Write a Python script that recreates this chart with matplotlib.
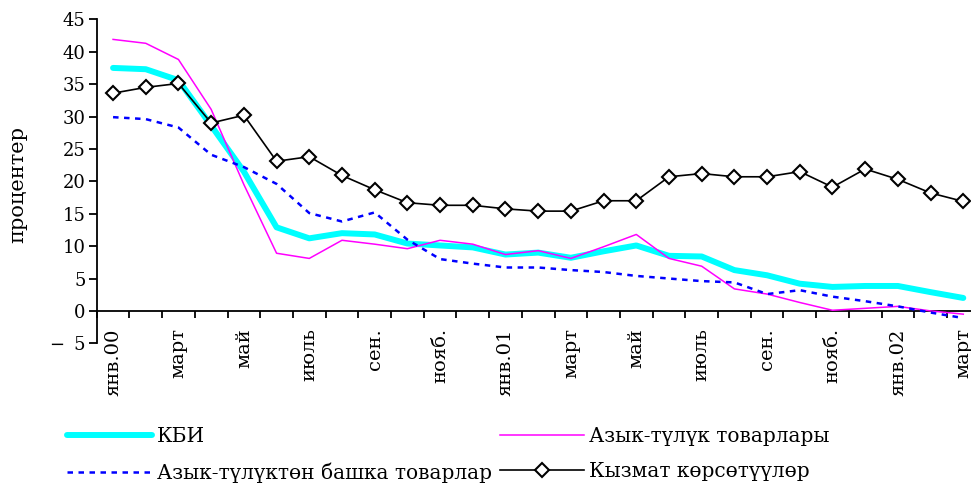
import matplotlib
matplotlib.use("Agg")
import matplotlib.pyplot as plt
from matplotlib.ticker import FixedLocator, NullFormatter

plt.rcParams['font.family'] = ['DejaVu Serif']

months = list(range(27))  # Jan 2000 .. Mar 2002
tick_labels = ["янв.00", "март", "май", "июль", "сен.", "нояб.",
               "янв.01", "март", "май", "июль", "сен.", "нояб.",
               "янв.02", "март"]

cpi = [37.5, 37.3, 35.6, 28.6, 21.5, 12.9, 11.2, 12.0, 11.8, 10.4, 10.1, 9.8,
       8.7, 9.0, 8.2, 9.2, 10.1, 8.5, 8.4, 6.3, 5.5, 4.2, 3.7, 3.85, 3.85, 2.9, 2.0]
food = [41.9, 41.3, 38.8, 31.1, 19.5, 8.9, 8.1, 10.9, 10.3, 9.6, 10.9, 10.3,
        8.7, 9.3, 8.1, 9.9, 11.8, 8.1, 6.9, 3.4, 2.6, 1.3, 0.1, 0.4, 0.7, 0.0, -0.5]
nonfood = [29.9, 29.6, 28.3, 24.1, 22.2, 19.6, 15.1, 13.8, 15.2, 11.0, 8.0, 7.3,
           6.7, 6.7, 6.3, 6.0, 5.4, 5.0, 4.6, 4.4, 2.6, 3.2, 2.2, 1.5, 0.7, -0.25, -1.1]
services = [33.6, 34.5, 35.1, 29.0, 30.2, 23.1, 23.8, 20.9, 18.7, 16.7, 16.3, 16.3,
            15.75, 15.4, 15.4, 17.0, 17.0, 20.7, 21.2, 20.7, 20.7, 21.5, 19.1, 21.9,
            20.3, 18.2, 16.9]

names = ["КБИ", "Азык-түлүк товарлары", "Азык-түлүктөн башка товарлар",
         "Кызмат көрсөтүүлөр"]

y_ticks = list(range(-5, 50, 5))
# negative values get the minus sign set apart from the digits
y_tick_labels = ["\u2212\u2002" + str(-v) if v < 0 else str(v) for v in y_ticks]

fig = plt.figure(figsize=(9.71, 4.83), dpi=100)
ax = fig.add_axes([0.0996, 0.2892, 0.9093, 0.6708])

l_cpi, = ax.plot(months, cpi, color="#00ffff", lw=4.3, solid_capstyle="round",
                 zorder=2)
l_food, = ax.plot(months, food, color="#ff00ff", lw=1.1, zorder=3)
l_nonfood, = ax.plot(months, nonfood, color="#0000ff", lw=1.8,
                     dashes=(2.2, 2.2), zorder=3)
l_serv, = ax.plot(months, services, color="black", lw=1.2, marker="D",
                  markersize=7, markerfacecolor="white", markeredgecolor="black",
                  markeredgewidth=1.5, zorder=4)

ax.set_xlim(-0.5, 26.5)
ax.set_ylim(-5, 45)
ax.set_yticks(y_ticks)
ax.set_yticklabels(y_tick_labels)

ax.spines["top"].set_visible(False)
ax.spines["right"].set_visible(False)
ax.spines["bottom"].set_position(("data", 0))
for s in ("left", "bottom"):
    ax.spines[s].set_linewidth(1.3)

# tick marks between months, month names under every second month
ax.xaxis.set_major_locator(FixedLocator([i - 0.5 for i in range(28)]))
ax.xaxis.set_major_formatter(NullFormatter())
ax.xaxis.set_minor_locator(FixedLocator(months[::2]))
ax.set_xticklabels(tick_labels, minor=True, rotation=90, va="top",
                   ha="center", fontsize=14)
ax.tick_params(axis="x", which="major", direction="out", length=5, width=1.3)
ax.tick_params(axis="x", which="minor", length=0, pad=12.5)
ax.tick_params(axis="y", direction="out", length=6, width=1.3, labelsize=13,
               pad=2)

ax.set_ylabel("процентер", fontsize=15, va="center")
ax.yaxis.set_label_coords(-0.089, 0.489)

fig.legend([l_cpi, l_nonfood, l_food, l_serv],
           [names[0], names[2], names[1], names[3]],
           ncol=2, loc="upper left", bbox_to_anchor=(0.069, 0.116),
           frameon=False, fontsize=14.5, handlelength=4.2, handletextpad=0.25,
           columnspacing=0.4, labelspacing=0.8, numpoints=1, borderpad=0,
           borderaxespad=0, bbox_transform=fig.transFigure)

fig.savefig("out.png", dpi=100)
